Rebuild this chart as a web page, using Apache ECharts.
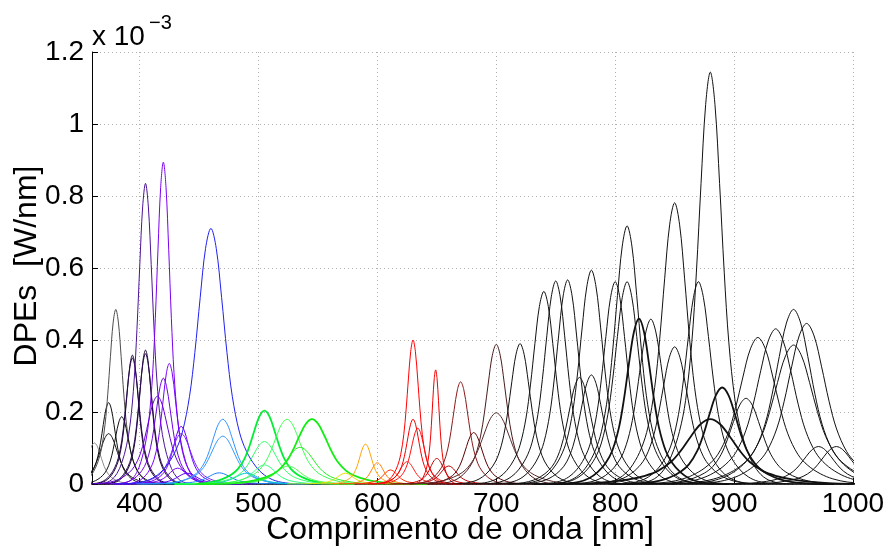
<!DOCTYPE html>
<html>
<head>
<meta charset="utf-8">
<script src="https://cdn.jsdelivr.net/npm/echarts@6/dist/echarts.min.js"></script>
<style>
  html, body { margin: 0; padding: 0; background: #fff; }
  #chart { width: 890px; height: 549px; }
</style>
</head>
<body>
<div id="chart"></div>
<script>
// Emission spectra of the LED set: one curve per LED.
// Peak wavelength [nm], peak power [x 10^-3 W/nm] and spectral half width [nm].
const peakWavelength = [
  362, 374, 374, 380, 385, 394, 394, 405, 405, 405,
  420, 425, 420, 415, 435, 435, 432, 440,
  460, 470, 470, 467, 490,
  505, 505, 505, 524, 525, 545, 535,
  573, 590, 600,
  611, 625, 630, 630, 634, 649, 650, 660, 670, 681,
  700, 700, 720,
  740, 750, 760, 770, 780, 780, 800, 810, 810, 820, 830,
  850, 850, 870, 880, 880, 890, 910, 920, 935, 950, 950, 961, 971, 986
];
const peakPower = [
  0.114, 0.226, 0.140, 0.485, 0.187, 0.358, 0.350, 0.372, 0.362, 0.835,
  0.894, 0.335, 0.294, 0.244, 0.160, 0.140, 0.044, 0.030,
  0.710, 0.180, 0.133, 0.031, 0.030,
  0.204, 0.118, 0.053, 0.180, 0.050, 0.180, 0.102,
  0.030, 0.111, 0.059,
  0.039, 0.062, 0.400, 0.180, 0.155, 0.317, 0.071, 0.050, 0.284, 0.143,
  0.388, 0.198, 0.390,
  0.535, 0.564, 0.567, 0.296, 0.303, 0.594, 0.562, 0.562, 0.717, 0.459, 0.458,
  0.781, 0.381, 0.562, 1.144, 0.180, 0.268, 0.238, 0.407, 0.431, 0.485, 0.386, 0.446, 0.104, 0.104
];
const halfWidth = [
  16, 15, 20, 15, 16, 14, 15, 14, 15, 16,
  15, 16, 18, 24, 18, 22, 20, 22,
  30, 25, 27, 25, 25,
  28, 28, 25, 30, 28, 36, 32,
  18, 14, 14,
  16, 16, 13, 14, 15, 8, 15, 18, 18, 20,
  22, 32, 23,
  25, 25, 25, 26, 26, 26, 26, 27, 27, 28, 28,
  28, 30, 28, 26, 55, 35, 35, 42, 42, 40, 45, 42, 35, 35
];

// Relative line shape of a single emission band: offset in half widths vs. fraction of the peak.
const profileOffset = [-2.7, -2.2, -1.8, -1.5, -1.25, -1.0, -0.8, -0.6, -0.45, -0.3, -0.15, 0,
                       0.15, 0.3, 0.45, 0.6, 0.8, 1.0, 1.25, 1.5, 1.8, 2.2, 2.7];
const profileLevel = [0, 0.0026, 0.0131, 0.0351, 0.0701, 0.1271, 0.2029, 0.3428, 0.5145, 0.7297, 0.9217, 1,
                      0.9217, 0.7297, 0.5145, 0.3428, 0.2029, 0.1271, 0.0701, 0.0351, 0.0131, 0.0026, 0];

// Axis ticks
const xTicks = [400, 500, 600, 700, 800, 900, 1000];
const yTicks = [0, 0.2, 0.4, 0.6, 0.8, 1, 1.2];

// Line styles (one per curve, same order as above)
const K = '#111111';
const lineColor = [
  '#8c8c8c', K, K, '#4d4d4d', K, '#1c0836', '#2a0a50', '#1c0836', '#2a0a50', '#4b1496',
  '#7b00f0', '#7a00ff', '#6e00e0', '#6400d2', '#6c00ff', '#7a20ff', '#7a00ff', '#5a00ff',
  '#2020f0', '#3090ff', '#3399ff', '#1a80ff', '#00c8c8',
  '#00ee33', '#33ff66', '#30ff80', '#40ff50', '#50ff50', '#10ee10', '#22ee22',
  '#e0e000', '#ffa500', '#ff7f00',
  '#ff3000', '#ff1a1a', '#ff0000', '#f00000', '#ff1010', '#ee0000', '#c80000', '#b00000', '#8b1a1a', '#5a0000',
  '#4a1c1c', '#5a2a2a', K,
  K, K, K, K, K, K, K, K, K, K, K,
  K, K, K, K, K, K, K, K, K, K, K, K, K, K
];
// Curves drawn with a heavier stroke: 505 nm, 545 nm, 820 nm, broad 880 nm, 890 nm
const thick = [23, 28, 55, 61, 62];
const lineWeight = peakWavelength.map((_, i) => (thick.indexOf(i) >= 0 ? 1.8 : 1));

const FONT = 'Liberation Sans, Arial, Helvetica, sans-serif';

const series = peakWavelength.map((c, i) => ({
  type: 'line',
  data: profileOffset.map((u, k) => [c + u * halfWidth[i], peakPower[i] * profileLevel[k]]),
  showSymbol: false,
  smooth: 0.35,
  silent: true,
  clip: true,
  lineStyle: { color: lineColor[i], width: lineWeight[i] }
}));

const chart = echarts.init(document.getElementById('chart'), null, { renderer: 'canvas' });
chart.setOption({
  animation: false,
  backgroundColor: '#ffffff',
  grid: { left: 92, right: 37, top: 52, bottom: 65, containLabel: false },
  xAxis: {
    type: 'value',
    min: 360,
    max: 1000,
    axisLine: { show: true, onZero: false, lineStyle: { color: '#000', width: 1.5 } },
    axisTick: { show: true, inside: true, length: 6, customValues: xTicks, lineStyle: { color: '#000' } },
    axisLabel: {
      customValues: xTicks, color: '#000', fontSize: 28, fontFamily: FONT, margin: 6,
      formatter: v => String(v)
    },
    splitLine: { show: true, lineStyle: { color: '#b0b0b0', type: [1, 3], width: 1 } }
  },
  yAxis: {
    type: 'value',
    min: 0,
    max: 1.2,
    interval: 0.2,
    axisLine: { show: true, lineStyle: { color: '#000', width: 1 } },
    axisTick: { show: true, inside: true, length: 6, lineStyle: { color: '#000' } },
    axisLabel: {
      customValues: yTicks, color: '#000', fontSize: 28, fontFamily: FONT, margin: 8,
      formatter: v => String(+v.toFixed(1))
    },
    splitLine: { show: true, lineStyle: { color: '#b0b0b0', type: [1, 3], width: 1 } }
  },
  graphic: [
    { type: 'text', x: 92, y: 37, style: { text: 'x 10', font: '28px ' + FONT, fill: '#000', verticalAlign: 'middle' } },
    { type: 'text', x: 149, y: 23, style: { text: '\u22123', font: '20px ' + FONT, fill: '#000', verticalAlign: 'middle' } },
    { type: 'text', x: 460, y: 530, style: { text: 'Comprimento de onda [nm]', font: '32px ' + FONT, fill: '#000', align: 'center', verticalAlign: 'middle' } },
    { type: 'text', x: 27, y: 266, rotation: Math.PI / 2, style: { text: 'DPEs  [W/nm]', font: '32px ' + FONT, fill: '#000', align: 'center', verticalAlign: 'middle' } }
  ],
  series: series
});
</script>
</body>
</html>
